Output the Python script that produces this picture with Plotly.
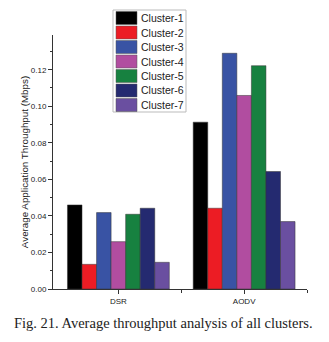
import plotly.graph_objects as go

protocols = ["DSR", "AODV"]
clusters = ["Cluster-1", "Cluster-2", "Cluster-3", "Cluster-4", "Cluster-5", "Cluster-6", "Cluster-7"]
dsr = [0.046, 0.0135, 0.0418, 0.0259, 0.0409, 0.0442, 0.0146]
aodv = [0.0913, 0.0442, 0.129, 0.1059, 0.1222, 0.0643, 0.0369]
colors = ["#000000", "#EC1C24", "#3953A4", "#B14DA0", "#178140", "#242A70", "#6A4FA0"]
yticks = [0.00, 0.02, 0.04, 0.06, 0.08, 0.10, 0.12]

W, H = 329, 342
L, R, T, B = 53, 22, 35, 53
PW, PH = W - L - R, H - T - B


def px(x):
    return (x - L) / PW


def py(y):
    return (H - B - y) / PH


fig = go.Figure()
for i, name in enumerate(clusters):
    fig.add_trace(go.Bar(
        x=[0, 1], y=[dsr[i], aodv[i]], name=name,
        marker=dict(color=colors[i], line=dict(color="#333333", width=0.5)),
    ))

fig.update_layout(
    width=W, height=H,
    barmode="group", bargap=0.19, bargroupgap=0,
    plot_bgcolor="white", paper_bgcolor="white",
    margin=dict(l=L, r=R, t=T, b=B),
    font=dict(family="Arial, Liberation Sans, sans-serif", color="#222222"),
    showlegend=False,
    xaxis=dict(
        range=[-0.52, 1.5], tickvals=[0, 1], ticktext=protocols, automargin=False,
        showgrid=False, zeroline=False, showline=True, linecolor="#333333", linewidth=1,
        ticks="outside", ticklen=4, tickcolor="#333333", tickfont=dict(size=8),
        minor=dict(tickvals=[0.5, 1.5], ticks="outside", ticklen=3, tickcolor="#333333"),
    ),
    yaxis=dict(
        range=[0, 0.139], tickvals=yticks, ticktext=[f"{v:.2f}" for v in yticks], automargin=False,
        showgrid=False, zeroline=False, showline=True, linecolor="#333333", linewidth=1,
        ticks="outside", ticklen=4, tickcolor="#333333", tickfont=dict(size=8),
        minor=dict(tickvals=[0.01, 0.03, 0.05, 0.07, 0.09, 0.11, 0.13], ticks="outside",
                   ticklen=2, tickcolor="#333333"),
        title=dict(text="Average Application Throughput (Mbps)", font=dict(size=9.8), standoff=0),
    ),
)

# legend box drawn as layout decoration
fig.add_shape(type="rect", xref="paper", yref="paper",
              x0=px(113), x1=px(186), y0=py(112), y1=py(10),
              line=dict(color="#bbbbbb", width=1), fillcolor="white", layer="above")
for i, name in enumerate(clusters):
    top = 11.5 + i * 14.5
    fig.add_shape(type="rect", xref="paper", yref="paper",
                  x0=px(116), x1=px(137), y0=py(top + 13), y1=py(top),
                  line=dict(color="#555555", width=0.5), fillcolor=colors[i], layer="above")
    fig.add_annotation(text=name, xref="paper", yref="paper", x=px(139), y=py(top + 6.5),
                       xanchor="left", yanchor="middle", showarrow=False,
                       font=dict(size=10.5, color="#222222"))

fig.add_annotation(
    text="Fig. 21. Average throughput analysis of all clusters.",
    xref="paper", yref="paper", x=px(163.5), y=py(323),
    xanchor="center", yanchor="middle", showarrow=False,
    font=dict(family="Liberation Serif, Times New Roman, serif", size=14.5, color="#222222"),
)
fig.write_html("out.html", config={"displayModeBar": False},
               post_script="document.body.style.margin='0';")
